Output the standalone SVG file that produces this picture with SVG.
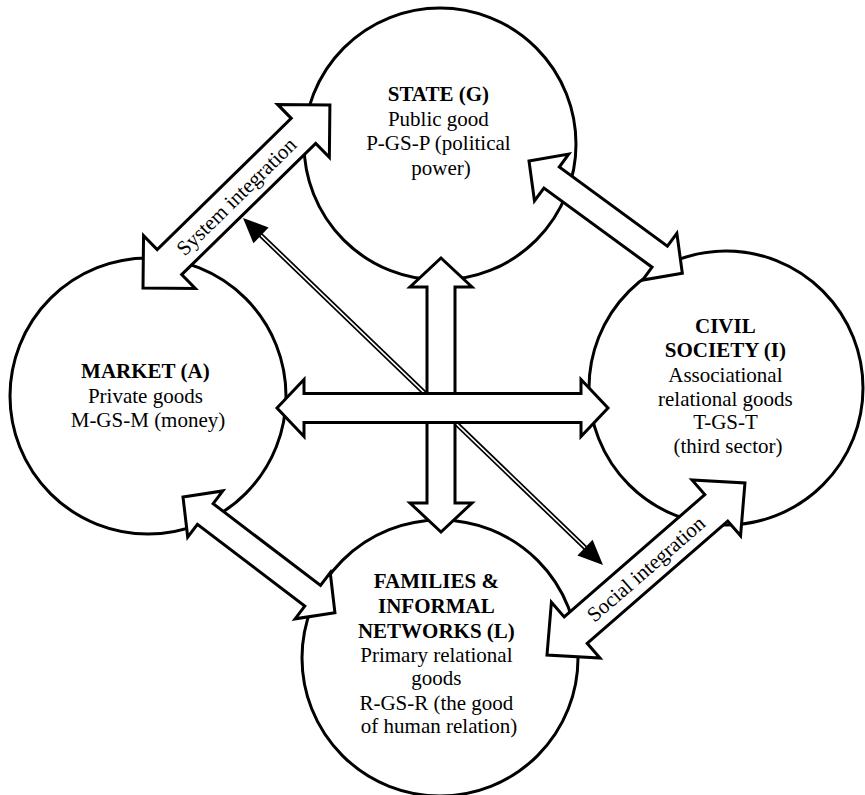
<svg xmlns="http://www.w3.org/2000/svg" width="865" height="795" viewBox="0 0 865 795">
  <style>
    .sphere { fill: #fff; stroke: #000; stroke-width: 3; }
    .block { fill: #fff; stroke: #000; stroke-width: 3; stroke-linejoin: miter; }
    .label { font-family: "Liberation Serif", "Times New Roman", serif; font-size: 21px; fill: #000; text-anchor: middle; }
    .title { font-weight: bold; }
    .rail { stroke: #000; stroke-width: 5; fill: none; }
    .rail-core { stroke: #fff; stroke-width: 1.6; fill: none; }
  </style>
  <rect width="865" height="795" fill="#fff"/>

  <!-- the four spheres -->
  <g id="state">
    <circle class="sphere" cx="440" cy="144" r="136"/>
    <text class="label" x="441" y="101"><tspan class="title">STATE (G)</tspan>
      <tspan x="441" dy="24.5">Public good</tspan>
      <tspan x="441" dy="24.5">P-GS-P (political</tspan>
      <tspan x="441" dy="24.5">power)</tspan></text>
  </g>
  <g id="market">
    <circle class="sphere" cx="148" cy="396" r="138"/>
    <text class="label" x="148" y="378"><tspan class="title">MARKET (A)</tspan>
      <tspan x="148" dy="24.5">Private goods</tspan>
      <tspan x="148" dy="24.5">M-GS-M (money)</tspan></text>
  </g>
  <g id="civil-society">
    <circle class="sphere" cx="726" cy="388" r="137"/>
    <text class="label" x="728" y="333"><tspan class="title">CIVIL</tspan>
      <tspan class="title" x="728" dy="24">SOCIETY (I)</tspan>
      <tspan x="728" dy="24.5">Associational</tspan>
      <tspan x="728" dy="24">relational goods</tspan>
      <tspan x="728" dy="23.5">T-GS-T</tspan>
      <tspan x="728" dy="24">(third sector)</tspan></text>
  </g>
  <g id="families">
    <circle class="sphere" cx="440" cy="658" r="138"/>
    <text class="label" x="439" y="588"><tspan class="title">FAMILIES &amp;</tspan>
      <tspan class="title" x="439" dy="25">INFORMAL</tspan>
      <tspan class="title" x="439" dy="24.5">NETWORKS (L)</tspan>
      <tspan x="439" dy="24">Primary relational</tspan>
      <tspan x="439" dy="23.5">goods</tspan>
      <tspan x="439" dy="24.5">R-GS-R (the good</tspan>
      <tspan x="439" dy="23.5">of human relation)</tspan></text>
  </g>

  <!-- connectors -->
  <g id="connectors">
    <!-- diagonal double-ruled link -->
    <g id="diagonal">
      <line class="rail" x1="258" y1="232.5" x2="588" y2="550.5"/>
      <line class="rail-core" x1="258" y1="232.5" x2="588" y2="550.5"/>
      <polygon points="243,218 253.4,243.3 268.6,227.4" fill="#000"/>
      <polygon points="603,565 577.4,555.6 592.6,539.7" fill="#000"/>
    </g>
    <!-- vertical state/families -->
    <path class="block" transform="translate(441,258) rotate(90)"
      d="M0,0 L29,-31 L29,-14 L245,-14 L245,-31 L274,0 L245,31 L245,14 L29,14 L29,31 Z"/>
    <!-- horizontal market/civil society -->
    <path class="block" transform="translate(277,408)"
      d="M0,0 L27,-28.5 L27,-14.5 L304,-14.5 L304,-28.5 L331,0 L304,28.5 L304,14.5 L27,14.5 L27,28.5 Z"/>
    <!-- market/state: system integration -->
    <g id="system-integration" transform="translate(143,288) rotate(-44.4)">
      <path class="block" d="M0,0 L37,-37 L37,-17.5 L224.6,-17.5 L224.6,-37 L261.6,0 L224.6,37 L224.6,17.5 L37,17.5 L37,37 Z"/>
      <text class="label" x="130.8" y="7">System integration</text>
    </g>
    <!-- state/civil society -->
    <path class="block" transform="translate(529,161) rotate(36.2)"
      d="M0,0 L28,-29 L28,-13 L162,-13 L162,-29 L190,0 L162,29 L162,13 L28,13 L28,29 Z"/>
    <!-- market/families -->
    <path class="block" transform="translate(183,497) rotate(37.3)"
      d="M0,0 L28,-29 L28,-13 L163,-13 L163,-29 L191,0 L163,29 L163,13 L28,13 L28,29 Z"/>
    <!-- families/civil society: social integration -->
    <g id="social-integration" transform="translate(547,655) rotate(-41)">
      <path class="block" d="M0,0 L38,-37 L38,-17.5 L224.3,-17.5 L224.3,-37 L262.3,0 L224.3,37 L224.3,17.5 L38,17.5 L38,37 Z"/>
      <text class="label" x="131.2" y="7">Social integration</text>
    </g>
  </g>
</svg>
